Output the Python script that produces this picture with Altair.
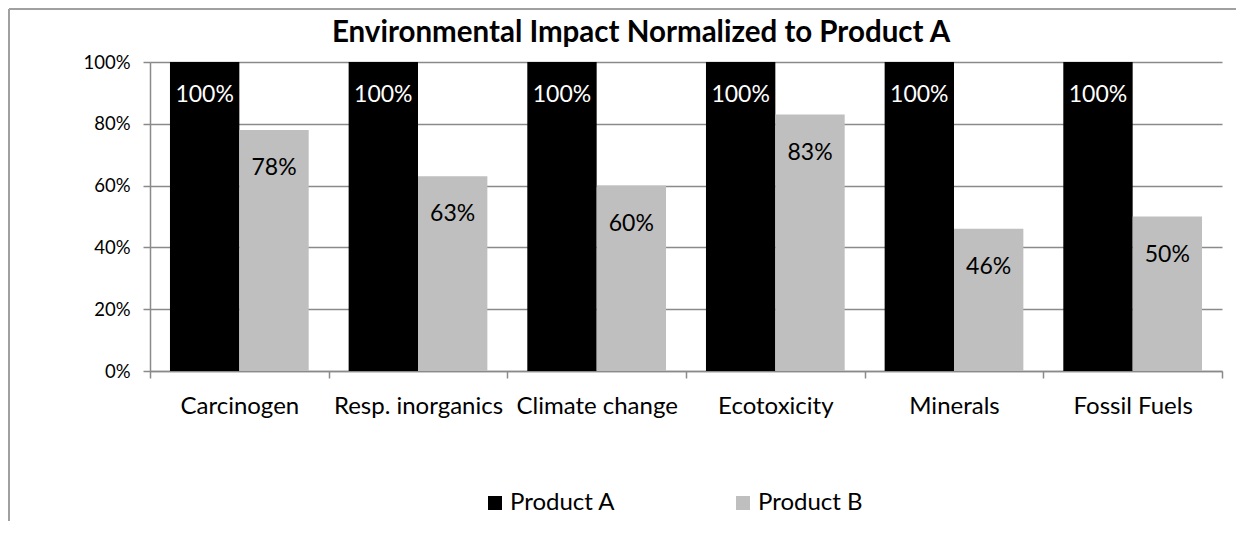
import altair as alt
import pandas as pd

categories = ["Carcinogen", "Resp. inorganics", "Climate change", "Ecotoxicity", "Minerals", "Fossil Fuels"]
series = ["Product A", "Product B"]
product_a = [1.00, 1.00, 1.00, 1.00, 1.00, 1.00]
product_b = [0.78, 0.63, 0.60, 0.83, 0.46, 0.50]
y_ticks = [0, 0.2, 0.4, 0.6, 0.8, 1.0]
colors = ["#000000", "#bfbfbf"]

rows = []
for c, a, b in zip(categories, product_a, product_b):
    rows.append({"category": c, "product": series[0], "value": a})
    rows.append({"category": c, "product": series[1], "value": b})
df = pd.DataFrame(rows)

FONT = "Lato"
GRAY = "#8a8a8a"

x_enc = alt.X(
    "category:N", sort=categories,
    scale=alt.Scale(paddingInner=0, paddingOuter=0),
    axis=alt.Axis(title=None, labelAngle=0, tickBand="extent", labelOverlap=False,
                  labelFontSize=24, labelFont=FONT, labelColor="black",
                  tickSize=7, tickColor=GRAY, tickWidth=1.5,
                  domainColor=GRAY, domainWidth=1.5, labelPadding=16, grid=False),
)
xo_enc = alt.XOffset("product:N", sort=series,
                     scale=alt.Scale(paddingInner=0, paddingOuter=0.288))
y_enc = alt.Y(
    "value:Q", scale=alt.Scale(domain=[0, 1]),
    axis=alt.Axis(title=None, values=y_ticks, format=".0%", grid=True,
                  gridColor=GRAY, gridWidth=1.5, gridOpacity=1,
                  labelFontSize=18.5, labelFont=FONT, labelColor="black",
                  tickSize=7, tickColor=GRAY, tickWidth=1.5,
                  domainColor=GRAY, domainWidth=1.5, labelPadding=13),
)

bars = alt.Chart(df).mark_bar().encode(
    x=x_enc, xOffset=xo_enc, y=y_enc,
    color=alt.Color("product:N", sort=series,
                    scale=alt.Scale(domain=series, range=colors),
                    legend=alt.Legend(title=None, orient="none", legendX=333, legendY=429,
                                      direction="horizontal", symbolType="square",
                                      symbolSize=196, symbolStrokeWidth=0,
                                      labelFontSize=24, labelFont=FONT, labelColor="black",
                                      columnPadding=115, labelOffset=3)),
)

text_a = alt.Chart(df).transform_filter(alt.datum.product == "Product A").mark_text(
    font=FONT, fontSize=23, color="white", baseline="middle", dy=33
).encode(x=alt.X("category:N", sort=categories), xOffset=alt.XOffset("product:N", sort=series),
         y="value:Q", text=alt.Text("value:Q", format=".0%"))

text_b = alt.Chart(df).transform_filter(alt.datum.product == "Product B").mark_text(
    font=FONT, fontSize=23, color="black", baseline="middle", dy=38
).encode(x=alt.X("category:N", sort=categories), xOffset=alt.XOffset("product:N", sort=series),
         y="value:Q", text=alt.Text("value:Q", format=".0%"))

frame_left = alt.Chart(df).mark_rule(color="#a0a0a0", strokeWidth=1.5).encode(
    x=alt.value(-141), y=alt.value(-53), y2=alt.value(460))
frame_top = alt.Chart(df).mark_rule(color="#a0a0a0", strokeWidth=1.5).encode(
    x=alt.value(-141), x2=alt.value(1090), y=alt.value(-53))

chart = alt.layer(bars, text_a, text_b, frame_left, frame_top).properties(
    width=1072, height=309,
    autosize=alt.AutoSizeParams(type="none"),
    padding={"left": 142, "top": 54, "right": 14, "bottom": 150},
    title=alt.Title("Environmental Impact Normalized to Product A", font=FONT, fontSize=29.5,
                    fontWeight="bold", color="black", anchor="middle", frame="group",
                    baseline="alphabetic", offset=19, dx=-45, dy=82),
).configure_view(stroke=None)

chart.save("out.html", embed_options={"renderer": "svg", "actions": False})
